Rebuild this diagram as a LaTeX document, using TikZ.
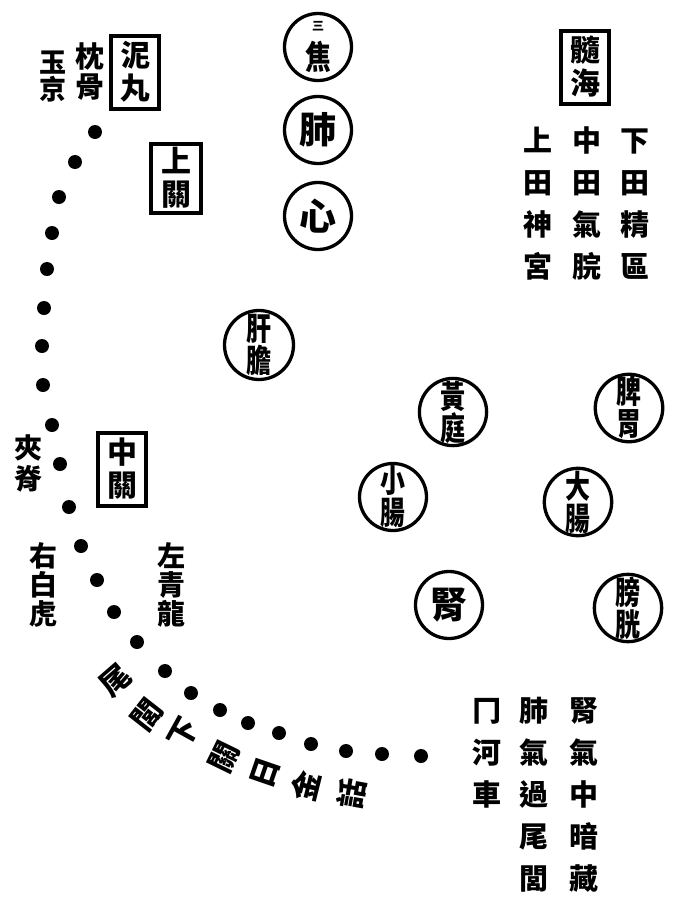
\documentclass[tikz,border=0pt]{standalone}
\usepackage{graphicx}
\usepackage{fontspec}
\setmainfont{Noto Sans CJK TC}
\newcommand\boxf{\fontsize{30}{33}\selectfont\bfseries}
\newcommand\labf{\fontsize{29}{30}\selectfont\bfseries}
\newcommand\labwide{\fontsize{29}{42}\selectfont\bfseries}
\newcommand\orgf{\fontsize{32}{32}\selectfont\bfseries}
\newcommand\onef{\fontsize{37}{37}\selectfont\bfseries}
\newcommand\nc[1]{\scalebox{0.78}[1]{#1}}
\begin{document}
\begin{tikzpicture}[x=1pt,y=-1pt,
  dotm/.style={circle, fill=black, inner sep=0pt, minimum size=14pt},
  boxm/.style={draw, line width=4pt, inner sep=0pt, minimum width=48pt, minimum height=73pt, align=center, font=\boxf},
  organ/.style={draw, circle, line width=3.3pt, minimum size=67pt, inner sep=0pt, align=center, font=\orgf},
  vlab/.style={align=center, inner sep=0pt, font=\labf},
  vwide/.style={align=center, inner sep=0pt, font=\labwide},
  rotc/.style={inner sep=0pt, font=\fontsize{30}{30}\selectfont\bfseries}]
\useasboundingbox (0,0) rectangle (676,919);

% boxes
\node[boxm] (niwan) at (135,72) {泥\\丸};
\node[boxm, minimum height=69pt, minimum width=50pt] (shangguan) at (176,178) {上\\關};
\node[boxm] (zhongguan) at (122,469) {中\\關};
\node[boxm] (suihai) at (585,67) {髓\\海};

% left labels
\node[vlab] (zhengu) at (90,72) {枕\\骨};
\node[vlab, font=\fontsize{27}{27}\selectfont\bfseries] (yujing) at (53,77) {玉\\京};
\node[vlab, font=\fontsize{28}{31}\selectfont\bfseries] (jiaji) at (29,463) {夾\\脊};
\node[vlab, font=\fontsize{28}{29}\selectfont\bfseries] (baihu) at (43,585) {右\\白\\虎};
\node[vlab, font=\fontsize{28}{29}\selectfont\bfseries] (qinglong) at (171,585) {左\\青\\龍};

% organ circles
\node[organ] (sanjiao) at (318,47) {};
\node[inner sep=0pt, font=\fontsize{12}{12}\selectfont\bfseries] (san) at (318,26) {三};
\node[inner sep=0pt, font=\fontsize{33}{33}\selectfont\bfseries] (jiao) at (318,57) {\nc{焦}};
\node[organ, font=\onef] (fei) at (318,130) {肺};
\node[organ, font=\onef] (xin) at (318,216) {心};
\node[organ, minimum size=69pt] (gandan) at (259,345) {\nc{肝}\\\nc{膽}};
\node[organ] (huangting) at (453,412) {\nc{黃}\\\nc{庭}};
\node[organ] (piwei) at (629,408) {\nc{脾}\\\nc{胃}};
\node[organ] (xiaochang) at (393,497) {\nc{小}\\\nc{腸}};
\node[organ] (dachang) at (578,502) {\nc{大}\\\nc{腸}};
\node[organ, font=\onef] (shen) at (449,605) {腎};
\node[organ] (pangguang) at (628,608) {\nc{膀}\\\nc{胱}};

% right-top columns
\node[vwide] (c1) at (538,204) {上\\田\\神\\宮};
\node[vwide] (c2) at (587,204) {中\\田\\氣\\脘};
\node[vwide] (c3) at (635,204) {下\\田\\精\\區};

% bottom-right columns
\node[vwide] (b1) at (487,753) {冂\\河\\車};
\node[vwide] (b2) at (534,795) {肺\\氣\\過\\尾\\閭};
\node[vwide] (b3) at (584,795) {腎\\氣\\中\\暗\\藏};

% spine dots
\foreach \px/\py [count=\i] in {95/132,75/162,59/197,52/233,47/269,44/308,42/346,43/385,52/425,60/464,69/507,81/546,97/580,114/612,137/642,165/671,191/693,220/710,248/723,279/733,311/744,346/751,382/754,421/756}
  \node[dotm] (d\i) at (\px,\py) {};

% rotated text along the curve
\node[rotc, rotate=41] (r1) at (116,680) {尾};
\node[rotc, rotate=52] (r2) at (147,715) {閭};
\node[rotc, rotate=61] (r3) at (184,733) {下};
\node[rotc, rotate=64] (r4) at (224,757) {關};
\node[rotc, rotate=71] (r5) at (265,773) {日};
\node[rotc, rotate=76] (r6) at (306,786) {金};
\node[rotc, rotate=80] (r7) at (352,794) {話};
\end{tikzpicture}
\end{document}
